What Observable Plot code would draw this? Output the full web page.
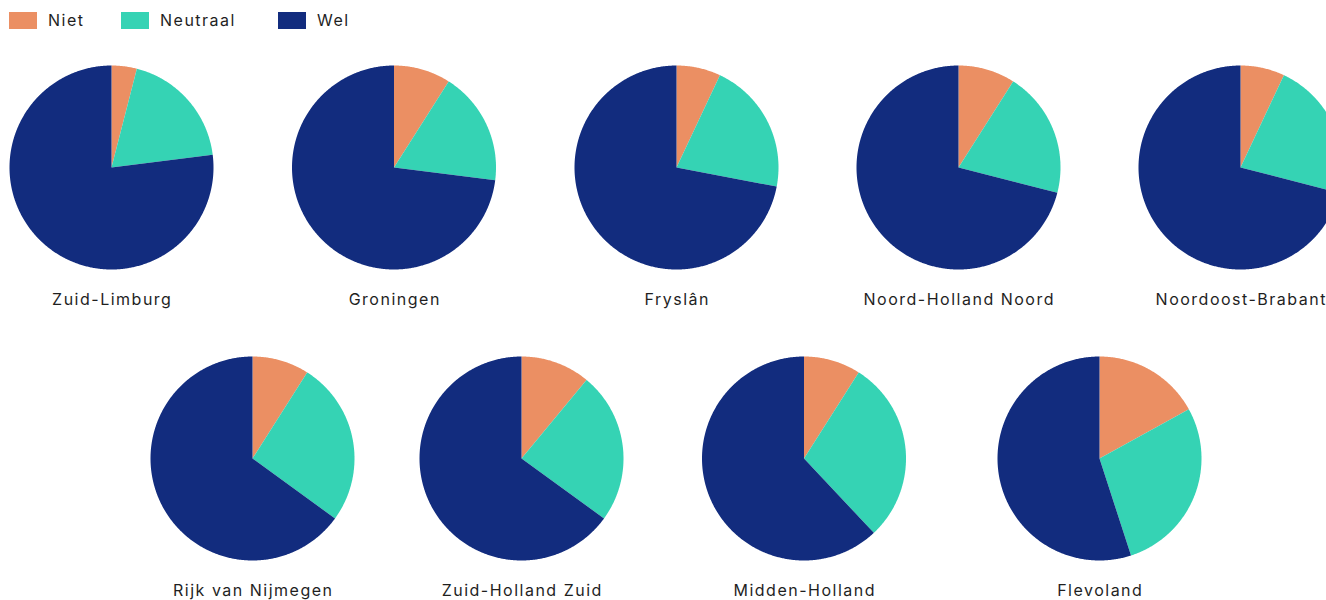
<!DOCTYPE html>
<html>
<head>
<meta charset="utf-8">
<script src="https://cdn.jsdelivr.net/npm/d3@7"></script>
<script src="https://cdn.jsdelivr.net/npm/@observablehq/plot@0.6"></script>
<style>
  html, body { margin: 0; padding: 0; background: #fff; overflow: hidden; width: 1326px; height: 600px; }
  body { font-family: Inter, "Noto Sans", sans-serif; color: #1f1f1f; }
  #legend { height: 40px; box-sizing: border-box; padding-top: 12px; padding-left: 9px; display: flex; align-items: flex-start; font-size: 16px; letter-spacing: 1.5px; }
  .item { display: flex; align-items: center; }
  .sw { width: 28px; height: 17px; margin-right: 11px; }
  .lab { line-height: 17px; }
</style>
</head>
<body>
<div id="legend"></div>
<div id="chart"></div>
<script>
// ---- data ----
const regions = ["Zuid-Limburg", "Groningen", "Fryslân", "Noord-Holland Noord", "Noordoost-Brabant",
                 "Rijk van Nijmegen", "Zuid-Holland Zuid", "Midden-Holland", "Flevoland"];
const categories = ["Niet", "Neutraal", "Wel"];
const niet     = [4, 9, 7, 9, 7, 9, 11, 9, 17];
const neutraal = [19, 18, 21, 20, 22, 26, 24, 29, 28];
const wel      = [77, 73, 72, 71, 71, 65, 65, 62, 55];
const colors = ["#EB8F63", "#35D3B4", "#122C7E"];

// ---- layout (pixel positions within the svg) ----
const W = 1326, H = 560, R = 102;
const centers = [
  [111, 127], [393.5, 127], [676, 127], [958, 127], [1240, 127],
  [252, 418], [521, 418], [803.5, 418], [1099, 418]
];
const labelOffset = 132;

// legend
const legend = document.getElementById("legend");
const legendWidths = [112, 157, 80];
categories.forEach((c, i) => {
  const it = document.createElement("div");
  it.className = "item";
  it.style.width = legendWidths[i] + "px";
  it.innerHTML = `<div class="sw" style="background:${colors[i]}"></div><div class="lab">${c}</div>`;
  legend.appendChild(it);
});

// slices as polygons
const pie = d3.pie().sort(null).value(d => d.value);
const points = [];
regions.forEach((reg, ri) => {
  const vals = [niet[ri], neutraal[ri], wel[ri]].map((v, k) => ({cat: categories[k], value: v}));
  const arcs = pie(vals);
  const [cx, cy] = centers[ri];
  arcs.forEach(a => {
    const key = reg + "|" + a.data.cat;
    points.push({key, cat: a.data.cat, x: cx, y: cy});
    const n = Math.max(2, Math.ceil((a.endAngle - a.startAngle) / (Math.PI / 360)));
    for (let s = 0; s <= n; s++) {
      const t = a.startAngle + (a.endAngle - a.startAngle) * s / n;
      points.push({key, cat: a.data.cat, x: cx + R * Math.sin(t), y: cy - R * Math.cos(t)});
    }
  });
});

const labels = regions.map((r, i) => ({text: r, x: centers[i][0] + 0.75, y: centers[i][1] + labelOffset}));

const chart = Plot.plot({
  width: W, height: H, margin: 0,
  style: {fontFamily: "Inter, 'Noto Sans', sans-serif", background: "white", overflow: "hidden", letterSpacing: "1.5px"},
  x: {domain: [0, W], range: [0, W], axis: null},
  y: {domain: [0, H], range: [0, H], axis: null},
  color: {domain: categories, range: colors},
  marks: [
    Plot.line(points, {x: "x", y: "y", z: "key", fill: "cat", stroke: "none", curve: "linear-closed"}),
    Plot.text(labels, {x: "x", y: "y", text: "text", fontSize: 16, fill: "#1f1f1f"})
  ]
});
document.getElementById("chart").appendChild(chart);
</script>
</body>
</html>
